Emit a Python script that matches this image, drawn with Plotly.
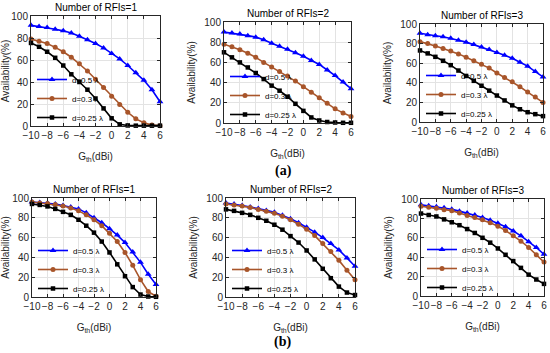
import plotly.graph_objects as go

x_gth = list(range(-10, 7))
x_ticks = [-10, -8, -6, -4, -2, 0, 2, 4, 6]
y_ticks = [0, 20, 40, 60, 80, 100]
series_names = ["d=0.5 λ", "d=0.3 λ", "d=0.25 λ"]
panel_titles = ["Number of RFIs=1", "Number of RFIs=2", "Number of RFIs=3",
                "Number of RFIs=1", "Number of RFIs=2", "Number of RFIs=3"]

# (a) row
a1_d05 = [91.5, 90.5, 89.5, 88, 86.5, 84.5, 81.5, 78.5, 75, 71, 66, 61, 55, 48.5, 41.5, 33, 22]
a1_d03 = [79, 77, 75, 71.5, 67.5, 62.5, 56.5, 50, 42.5, 35, 27, 19.5, 12.5, 6.5, 3, 0.8, 0.3]
a1_d025 = [75.5, 72, 67.5, 62, 55, 47, 40, 33, 25, 16, 7, 1.5, 0.5, 0.3, 0.3, 0.3, 0.3]

a2_d05 = [90, 89, 88, 86.5, 85, 82.5, 79, 76, 73, 69.5, 66, 62, 58, 52.5, 47, 40.5, 34]
a2_d03 = [78, 75.5, 72.5, 69, 65, 60, 55.5, 51, 46.5, 41.5, 36, 30.5, 25, 19.5, 14, 10, 6.5]
a2_d025 = [70, 65, 60, 55, 49.5, 43.5, 37, 32, 26, 19, 12, 5.5, 2.5, 1, 0.5, 0.2, 0.2]

a3_d05 = [90.5, 89, 88, 87, 85.5, 83.5, 81.5, 79, 76.5, 74, 71, 68, 65, 61, 57, 51.5, 46]
a3_d03 = [82, 80, 77.5, 75, 72.5, 69.5, 66, 62.5, 59, 55, 50, 45.5, 41, 36, 30.5, 25.5, 20]
a3_d025 = [73, 70, 66.5, 62.5, 58, 52.5, 47, 42, 37, 32, 27, 22, 17, 13, 10, 8, 6]

# (b) row
b1_d05 = [96, 95.5, 95, 94, 92.5, 91, 89, 85, 80, 75, 69, 62.5, 55, 45.5, 35, 23, 12.5]
b1_d03 = [96, 95, 94.5, 93.5, 92, 90, 87, 83, 78, 72, 64.5, 56, 45, 32, 17.5, 5.5, 0.7]
b1_d025 = [94, 93, 91.5, 89, 86, 83, 78, 72, 65, 56, 45, 33, 21, 10, 2.5, 0.5, 0.2]

b2_d05 = [95, 94, 92.5, 91, 89.5, 87.5, 85.5, 82.5, 79, 75, 70.5, 65.5, 60, 54, 47.5, 39.5, 31]
b2_d03 = [94, 93, 92, 90.5, 88.5, 86.5, 84.5, 81.5, 78, 73.5, 68.5, 62, 54, 46, 37, 27, 17.5]
b2_d025 = [88.5, 87, 85, 83, 80, 77, 73, 68, 61.5, 55, 47, 38, 28.5, 19, 10.5, 4.5, 2]

b3_d05 = [94, 93, 92, 91, 89.5, 87.5, 85.5, 83.5, 81, 78, 75, 71.5, 67, 62, 56, 50, 43]
b3_d03 = [92.5, 91.5, 90.5, 89, 88, 85.5, 83, 81, 78.5, 75.5, 72, 67.5, 62, 56.5, 50, 42.5, 35]
b3_d025 = [85, 83.5, 82, 79, 76, 73, 69, 65, 60, 55, 49, 42.5, 36, 29, 22, 17, 12.5]

panels = [
    (a1_d05, a1_d03, a1_d025),
    (a2_d05, a2_d03, a2_d025),
    (a3_d05, a3_d03, a3_d025),
    (b1_d05, b1_d03, b1_d025),
    (b2_d05, b2_d03, b2_d025),
    (b3_d05, b3_d03, b3_d025),
]

W, H = 550, 353
# plot-area boxes in pixels: (left, right, top, bottom)
boxes = [
    (31, 160, 16, 126),
    (224, 351, 22, 123),
    (420, 543, 24, 122),
    (32, 156, 198, 297),
    (226, 355, 198, 297),
    (421, 544, 199, 296),
]

colors = ["#0000FF", "#A8552A", "#000000"]
symbols = ["triangle-up", "circle", "square"]
msizes = [6, 5, 4.5]

FONT = "Liberation Sans, Arial, DejaVu Sans, sans-serif"
fig = go.Figure()

layout = dict(
    width=W, height=H, autosize=False,
    margin=dict(l=0, r=0, t=0, b=0, pad=0),
    paper_bgcolor="white", plot_bgcolor="white",
    font=dict(family=FONT, size=10, color="#262626"),
    annotations=[],
)

for i, (series, box) in enumerate(zip(panels, boxes)):
    k = i + 1
    xa = "x" if k == 1 else f"x{k}"
    ya = "y" if k == 1 else f"y{k}"
    lg = "legend" if k == 1 else f"legend{k}"
    for j, ys in enumerate(series):
        fig.add_trace(go.Scatter(
            x=x_gth, y=ys, xaxis=xa, yaxis=ya, legend=lg,
            name=series_names[j], mode="lines+markers",
            line=dict(color=colors[j], width=1.6),
            marker=dict(symbol=symbols[j], size=msizes[j], color=colors[j]),
            cliponaxis=False, showlegend=True,
        ))
    l, r, t, b = box
    axcommon = dict(
        showline=True, linecolor="#262626", linewidth=1, mirror="ticks",
        ticks="inside", ticklen=3, tickcolor="#262626",
        showgrid=True, gridcolor="#e3e3e3", gridwidth=1, zeroline=False,
        tickfont=dict(size=10, color="#262626", family=FONT),
        automargin=False, tickangle=0,
    )
    layout[f"xaxis{'' if k == 1 else k}"] = dict(
        axcommon, domain=[l / W, r / W], range=[-10, 6],
        tickvals=x_ticks, anchor=ya,
        title=dict(text="G<sub>th</sub>(dBi)", font=dict(size=10, family=FONT, color="#262626"), standoff=12),
    )
    layout[f"yaxis{'' if k == 1 else k}"] = dict(
        axcommon, domain=[1 - b / H, 1 - t / H], range=[0, 100],
        tickvals=y_ticks, anchor=xa,
        title=dict(text="Availability(%)", font=dict(size=10, family=FONT, color="#262626"), standoff=6),
    )
    layout[lg] = dict(
        x=(l + 1) / W, y=1 - (b + 6) / H, xanchor="left", yanchor="bottom",
        bgcolor="rgba(255,255,255,0)", borderwidth=0,
        font=dict(size=8, family=FONT, color="#000000"),
        itemwidth=30, tracegroupgap=0, traceorder="normal",
    )
    layout["annotations"].append(dict(
        text=panel_titles[i], xref="paper", yref="paper",
        x=(l + r) / 2 / W, y=1 - t / H, xanchor="center", yanchor="bottom",
        yshift=1, showarrow=False,
        font=dict(size=10, family=FONT, color="#000000"),
    ))

layout["annotations"].append(dict(
    text="<b>(a)</b>", xref="paper", yref="paper", x=283 / W, y=1 - 171 / H,
    xanchor="center", yanchor="middle", showarrow=False,
    font=dict(size=14, family="Liberation Serif, Times New Roman, serif", color="#000000"),
))
layout["annotations"].append(dict(
    text="<b>(b)</b>", xref="paper", yref="paper", x=282 / W, y=1 - 342 / H,
    xanchor="center", yanchor="middle", showarrow=False,
    font=dict(size=14, family="Liberation Serif, Times New Roman, serif", color="#000000"),
))

fig.update_layout(**layout)
fig.write_html(
    "out.html",
    config={"displayModeBar": False},
    post_script="document.body.style.margin='0';document.body.style.padding='0';document.documentElement.style.overflow='hidden';",
)
